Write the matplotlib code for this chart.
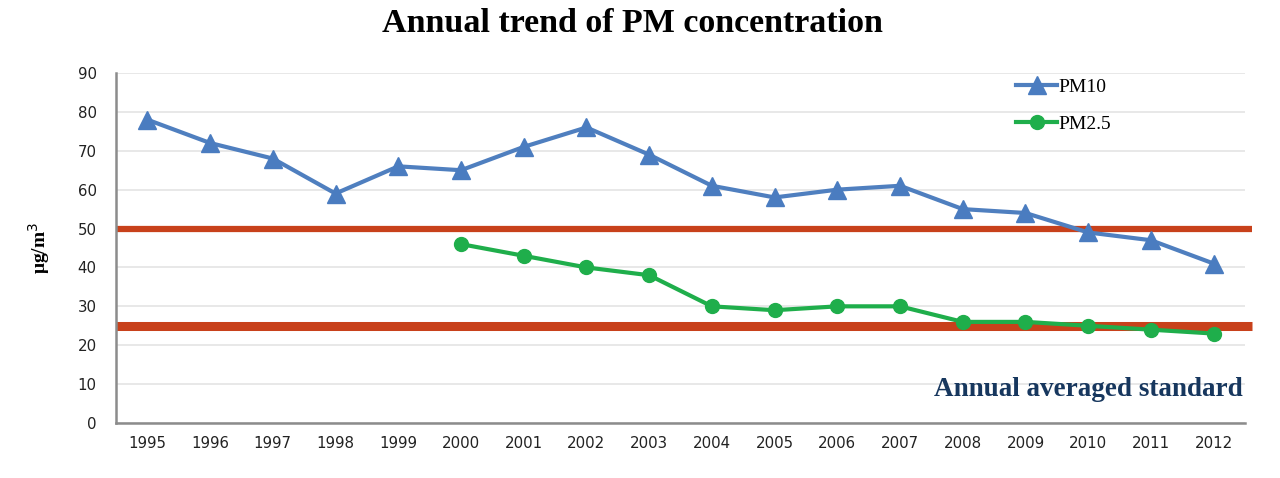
import matplotlib
matplotlib.use("Agg")
import matplotlib.pyplot as plt
import numpy as np

years = [str(y) for y in range(1995, 2013)]
pm10 = [78, 72, 68, 59, 66, 65, 71, 76, 69, 61, 58, 60, 61, 55, 54, 49, 47, 41]
pm25_years = [str(y) for y in range(2000, 2013)]
pm25 = [46, 43, 40, 38, 30, 29, 30, 30, 26, 26, 25, 24, 23]
standards = [50, 25]
y_ticks = list(range(0, 91, 10))

fig = plt.figure(figsize=(12.8, 4.78), dpi=100)
ax = fig.add_axes([116/1280, 1 - 423/478, (1245-116)/1280, (423-73)/478])

x10 = np.arange(len(years))
x25 = np.array([years.index(y) for y in pm25_years])

ax.set_xlim(-0.5, len(years) - 0.5)
ax.set_ylim(0, 90)
ax.set_yticks(y_ticks)
ax.set_xticks(x10)
ax.set_xticklabels(years)
ax.yaxis.grid(True, color="#e4e4e4", linewidth=1.2, zorder=0)
ax.set_axisbelow(True)

for s in ["top", "right"]:
    ax.spines[s].set_visible(False)
for s in ["left", "bottom"]:
    ax.spines[s].set_color("#8c8c8c")
    ax.spines[s].set_linewidth(1.8)
ax.tick_params(axis="both", length=0, labelsize=10.8, colors="#222222", pad=9)
ax.tick_params(axis="y", pad=14)
for lbl in ax.get_xticklabels() + ax.get_yticklabels():
    lbl.set_fontfamily("DejaVu Sans")

# standards
ax.plot([0, 1.006], [standards[0]] * 2, transform=ax.get_yaxis_transform(),
        color="#c8411b", linewidth=4.5, zorder=2, clip_on=False, solid_capstyle="butt")
ax.plot([0, 1.006], [standards[1]] * 2, transform=ax.get_yaxis_transform(),
        color="#c8411b", linewidth=6.5, zorder=2, clip_on=False, solid_capstyle="butt")

ax.plot(x10, pm10, color="#4f7fbf", linewidth=3, marker="^", markersize=12.5,
        markerfacecolor="#4a7cc0", markeredgecolor="#4a7cc0", label="PM10", zorder=3)
ax.plot(x25, pm25, color="#1fae4b", linewidth=3, marker="o", markersize=10,
        markerfacecolor="#1fae4b", markeredgecolor="#1fae4b", label="PM2.5", zorder=3)

leg = ax.legend(loc="upper left", bbox_to_anchor=(0.782, 1.035), frameon=False,
                prop={"family": "Liberation Serif", "size": 14}, handlelength=2.1,
                handletextpad=0.05, labelspacing=1.0)

ax.text(0.998, 0.095, "Annual averaged standard", transform=ax.transAxes,
        ha="right", va="center", fontsize=19.5, fontweight="bold",
        family="Liberation Serif", color="#17375e")

ax.set_ylabel("μg/m$^3$", fontsize=14, fontweight="bold", family="Liberation Serif",
              labelpad=18)

fig.text(0.494, 1 - 23/478, "Annual trend of PM concentration", ha="center", va="center",
         fontsize=24.5, fontweight="bold", family="Liberation Serif")

fig.savefig("out.png", dpi=100)
